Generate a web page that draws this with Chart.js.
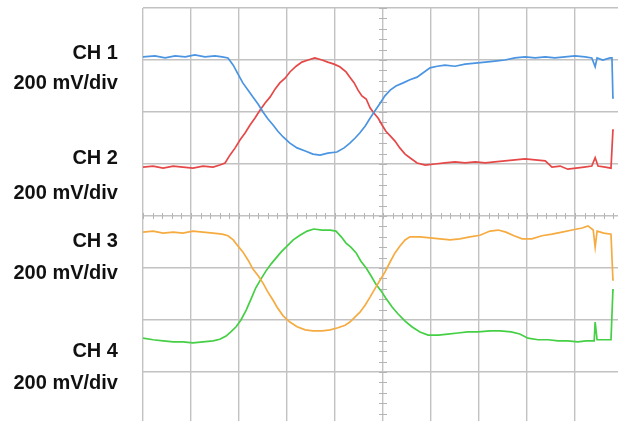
<!DOCTYPE html>
<html>
<head>
<meta charset="utf-8">
<script src="https://cdn.jsdelivr.net/npm/chart.js@4.4.1/dist/chart.umd.min.js"></script>
<style>
  html, body { margin: 0; padding: 0; overflow: hidden; background: #fff; }
  #wrap { position: absolute; left: 0; top: 0; width: 630px; height: 432px; }
  .lbl {
    position: absolute; left: 0; width: 118px; text-align: right;
    font: bold 20px "Liberation Sans", Arial, sans-serif; line-height: 20px; color: #111;
    white-space: nowrap;
  }
</style>
</head>
<body>
<div id="wrap"><canvas id="scope"></canvas></div>
<div id="labels"></div>
<script>
// channel labels (text, top of line box)
const channelLabels = ['CH 1', '200 mV/div', 'CH 2', '200 mV/div', 'CH 3', '200 mV/div', 'CH 4', '200 mV/div'];
const labelTops = [42, 72, 147, 182, 230, 262, 340, 372];

// traces, [time div, volts div]
const ch1 = [
  [0, 3.06], [0.25, 3.08], [0.46, 3.04], [0.67, 3.08], [0.88, 3.06], [1.08, 3.10], [1.29, 3.06], [1.5, 3.08],
  [1.65, 3.06], [1.77, 3.04], [1.88, 2.90], [1.98, 2.73], [2.08, 2.56], [2.19, 2.42], [2.29, 2.29], [2.40, 2.15],
  [2.50, 2.00], [2.60, 1.87], [2.71, 1.75], [2.81, 1.63], [2.92, 1.52], [3.06, 1.40], [3.21, 1.31], [3.38, 1.25],
  [3.54, 1.19], [3.69, 1.17], [3.85, 1.21], [4.04, 1.23], [4.19, 1.31], [4.31, 1.40], [4.42, 1.50], [4.52, 1.60],
  [4.63, 1.73], [4.73, 1.88], [4.83, 2.02], [4.94, 2.17], [5.04, 2.31], [5.15, 2.42], [5.27, 2.50], [5.42, 2.56],
  [5.56, 2.62], [5.71, 2.67], [5.83, 2.75], [5.98, 2.85], [6.13, 2.88], [6.29, 2.90], [6.5, 2.88], [6.71, 2.92],
  [6.92, 2.94], [7.13, 2.96], [7.33, 2.98], [7.54, 3.00], [7.75, 3.04], [7.96, 3.06], [8.17, 3.04], [8.38, 3.06],
  [8.58, 3.04], [8.79, 3.06], [9.0, 3.08], [9.21, 3.06], [9.35, 3.04], [9.42, 2.87], [9.46, 3.04], [9.58, 3.00],
  [9.73, 3.04], [9.77, 3.04], [9.79, 2.27], [9.81, 2.27]
];
const ch2 = [
  [0, 0.94], [0.21, 0.96], [0.42, 0.92], [0.63, 0.96], [0.83, 0.94], [1.04, 0.92], [1.25, 0.96], [1.46, 0.94],
  [1.60, 0.98], [1.71, 1.02], [1.81, 1.17], [1.92, 1.31], [2.02, 1.46], [2.13, 1.60], [2.23, 1.75], [2.33, 1.88],
  [2.44, 2.04], [2.54, 2.17], [2.65, 2.29], [2.75, 2.44], [2.85, 2.56], [2.96, 2.65], [3.06, 2.77], [3.19, 2.88],
  [3.31, 2.96], [3.44, 3.00], [3.58, 3.04], [3.73, 3.00], [3.85, 2.96], [3.98, 2.92], [4.10, 2.87], [4.23, 2.77],
  [4.31, 2.67], [4.40, 2.56], [4.48, 2.42], [4.56, 2.31], [4.65, 2.25], [4.73, 2.08], [4.81, 1.98], [4.90, 1.88],
  [4.98, 1.75], [5.06, 1.63], [5.15, 1.54], [5.25, 1.44], [5.35, 1.31], [5.46, 1.19], [5.56, 1.12], [5.71, 1.02],
  [5.88, 0.98], [6.08, 1.00], [6.29, 1.02], [6.5, 1.04], [6.71, 1.02], [6.92, 1.04], [7.13, 1.02], [7.33, 1.04],
  [7.54, 1.06], [7.75, 1.08], [7.96, 1.10], [8.17, 1.08], [8.38, 1.06], [8.52, 0.94], [8.69, 0.96], [8.85, 0.90],
  [9.02, 0.92], [9.19, 0.94], [9.35, 0.96], [9.42, 1.12], [9.48, 0.96], [9.63, 0.94], [9.75, 0.92], [9.79, 1.65],
  [9.81, 1.65]
];
const ch3 = [
  [0, -0.31], [0.21, -0.29], [0.42, -0.33], [0.63, -0.31], [0.83, -0.33], [1.04, -0.29], [1.25, -0.31], [1.46, -0.33],
  [1.65, -0.35], [1.77, -0.38], [1.88, -0.46], [1.98, -0.58], [2.08, -0.69], [2.19, -0.85], [2.29, -1.02], [2.40, -1.15],
  [2.50, -1.29], [2.60, -1.46], [2.71, -1.62], [2.79, -1.75], [2.92, -1.92], [3.06, -2.04], [3.21, -2.13], [3.38, -2.19],
  [3.54, -2.21], [3.73, -2.21], [3.90, -2.19], [4.06, -2.15], [4.21, -2.10], [4.31, -2.04], [4.42, -1.94], [4.52, -1.85],
  [4.63, -1.71], [4.73, -1.56], [4.83, -1.40], [4.94, -1.23], [5.04, -1.08], [5.15, -0.88], [5.25, -0.71], [5.35, -0.58],
  [5.46, -0.46], [5.56, -0.40], [5.77, -0.40], [5.98, -0.42], [6.19, -0.44], [6.40, -0.46], [6.60, -0.44], [6.81, -0.40],
  [7.02, -0.37], [7.23, -0.29], [7.40, -0.27], [7.56, -0.31], [7.73, -0.38], [7.90, -0.44], [8.10, -0.44], [8.31, -0.38],
  [8.52, -0.35], [8.73, -0.31], [8.94, -0.27], [9.15, -0.23], [9.27, -0.19], [9.38, -0.27], [9.42, -0.60], [9.46, -0.29],
  [9.60, -0.33], [9.75, -0.35], [9.79, -1.23], [9.81, -1.23]
];
const ch4 = [
  [0, -2.35], [0.21, -2.38], [0.42, -2.40], [0.63, -2.42], [0.83, -2.42], [1.04, -2.44], [1.25, -2.42], [1.46, -2.40],
  [1.60, -2.37], [1.73, -2.31], [1.83, -2.23], [1.94, -2.13], [2.04, -2.00], [2.15, -1.81], [2.25, -1.60], [2.35, -1.38],
  [2.46, -1.21], [2.56, -1.06], [2.67, -0.92], [2.77, -0.81], [2.88, -0.69], [3.0, -0.58], [3.13, -0.46], [3.27, -0.37],
  [3.42, -0.29], [3.56, -0.25], [3.73, -0.27], [3.90, -0.27], [4.02, -0.29], [4.13, -0.40], [4.23, -0.52], [4.33, -0.60],
  [4.44, -0.71], [4.54, -0.87], [4.65, -1.00], [4.75, -1.15], [4.85, -1.31], [4.96, -1.44], [5.06, -1.58], [5.19, -1.75],
  [5.31, -1.88], [5.46, -2.02], [5.60, -2.13], [5.77, -2.23], [5.94, -2.29], [6.15, -2.29], [6.35, -2.27], [6.56, -2.25],
  [6.77, -2.23], [6.98, -2.23], [7.23, -2.21], [7.44, -2.21], [7.67, -2.23], [7.85, -2.27], [8.02, -2.35], [8.23, -2.38],
  [8.44, -2.38], [8.65, -2.40], [8.85, -2.40], [9.06, -2.42], [9.23, -2.40], [9.40, -2.40], [9.42, -2.04], [9.46, -2.38],
  [9.60, -2.38], [9.75, -2.38], [9.79, -1.42], [9.81, -1.42]
];

const labelBox = document.getElementById('labels');
channelLabels.forEach(function(t, i) {
  const d = document.createElement('div');
  d.className = 'lbl';
  d.style.top = labelTops[i] + 'px';
  d.textContent = t;
  labelBox.appendChild(d);
});

function toPts(arr) {
  return arr.map(function(p) { return { x: p[0], y: p[1] }; });
}

function trace(data, color) {
  return {
    data: toPts(data),
    showLine: true,
    borderColor: color,
    borderWidth: 1.7,
    pointRadius: 0,
    tension: 0
  };
}

// little graduation marks on the two centre lines
const centreTicks = {
  id: 'centreTicks',
  beforeDatasetsDraw(chart) {
    const ctx = chart.ctx;
    const xs = chart.scales.x, ys = chart.scales.y;
    const cx = xs.getPixelForValue(5), cy = ys.getPixelForValue(0);
    ctx.save();
    ctx.strokeStyle = '#b4b4b4';
    ctx.lineWidth = 1;
    ctx.beginPath();
    for (let v = -4; v <= 4.001; v += 0.2) {
      const py = Math.round(ys.getPixelForValue(v)) + 0.5;
      ctx.moveTo(cx - 4, py); ctx.lineTo(cx + 4, py);
    }
    for (let v = 0; v <= 10.001; v += 0.2) {
      const px = Math.round(xs.getPixelForValue(v)) + 0.5;
      ctx.moveTo(px, cy - 3); ctx.lineTo(px, cy + 3);
    }
    ctx.stroke();
    ctx.restore();
  }
};

const ctx = document.getElementById('scope').getContext('2d');
new Chart(ctx, {
  type: 'scatter',
  data: {
    datasets: [
      trace(ch1, '#4a94e2'),
      trace(ch2, '#e64848'),
      trace(ch3, '#f6ab40'),
      trace(ch4, '#44cf44')
    ]
  },
  options: {
    responsive: true,
    maintainAspectRatio: false,
    animation: false,
    layout: { padding: { left: 143, top: 8, right: 7, bottom: 8 } },
    plugins: { legend: { display: false }, tooltip: { enabled: false } },
    scales: {
      x: {
        min: 0, max: 10,
        ticks: { display: false, stepSize: 1 },
        grid: { color: '#c2c2c2', lineWidth: 1.4, drawTicks: false },
        border: { display: false }
      },
      y: {
        min: -4, max: 4,
        ticks: { display: false, stepSize: 1 },
        grid: { color: '#c2c2c2', lineWidth: 1.4, drawTicks: false },
        border: { display: false }
      }
    }
  },
  plugins: [centreTicks]
});
</script>
</body>
</html>
